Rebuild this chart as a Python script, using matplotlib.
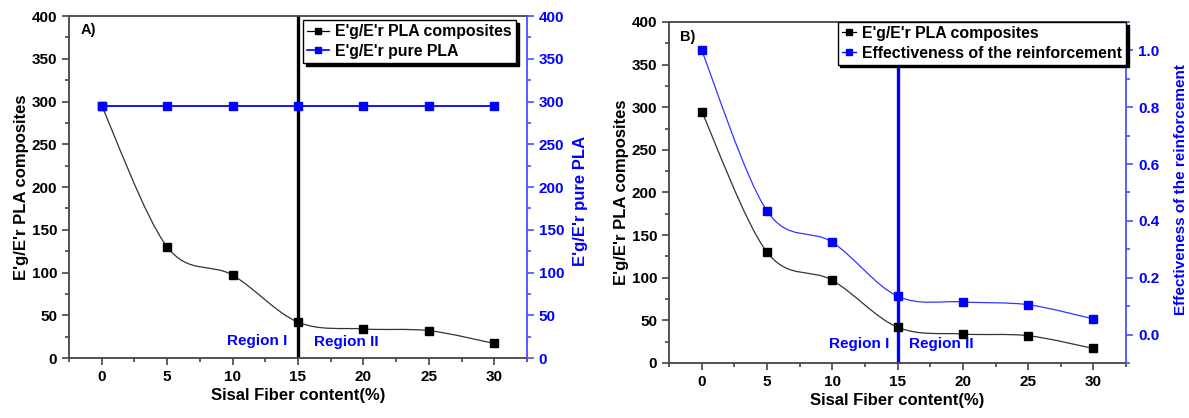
import numpy as np
import matplotlib.pyplot as plt
from matplotlib.path import Path
from matplotlib.patches import PathPatch
from matplotlib.lines import Line2D
from matplotlib.ticker import MultipleLocator

plt.rcParams['font.family'] = ['Liberation Sans', 'DejaVu Sans']
plt.rcParams['font.weight'] = 'bold'
plt.rcParams['axes.labelweight'] = 'bold'

fiber = [0, 5, 10, 15, 20, 25, 30]
ratio_composites = [295, 130, 97, 42, 34, 32, 17]
ratio_pure = [295, 295, 295, 295, 295, 295, 295]
effectiveness = [1.0, 0.435, 0.325, 0.135, 0.115, 0.105, 0.055]

BLUE = '#0000ff'
SPINE = '#444444'


def smooth_path(x, y):
    # catmull-rom curve through the points, drawn as bezier segments
    p = np.column_stack([x, y]).astype(float)
    p = np.vstack([p[0], p, p[-1]])
    verts = [p[1]]
    codes = [Path.MOVETO]
    for i in range(1, len(p) - 2):
        c1 = p[i] + (p[i + 1] - p[i - 1]) / 6
        c2 = p[i + 1] - (p[i + 2] - p[i]) / 6
        verts += [c1, c2, p[i + 1]]
        codes += [Path.CURVE4] * 3
    return Path(verts, codes)


def style_axes(ax, ax2):
    ax.set_xlim(-2.5, 32.5)
    ax.xaxis.set_major_locator(MultipleLocator(5))
    ax.xaxis.set_minor_locator(MultipleLocator(2.5))
    ax.set_ylim(0, 400)
    ax.yaxis.set_major_locator(MultipleLocator(50))
    ax.yaxis.set_minor_locator(MultipleLocator(25))
    for s in ['left', 'bottom', 'top']:
        ax.spines[s].set_color(SPINE)
        ax.spines[s].set_linewidth(1.3)
    ax.spines['right'].set_visible(False)
    ax.tick_params(which='both', direction='out', color=SPINE, width=1.2,
                   labelsize=11, top=False, right=False)
    ax.tick_params(which='major', length=5)
    ax.tick_params(which='minor', length=3)
    for s in ['left', 'bottom', 'top']:
        ax2.spines[s].set_visible(False)
    ax2.spines['right'].set_color('#4d4dff')
    ax2.spines['right'].set_linewidth(1.3)
    ax2.tick_params(which='both', direction='out', color='#4d4dff', width=1.2,
                    labelsize=11, labelcolor=BLUE)
    ax2.tick_params(which='major', length=5)
    ax2.tick_params(which='minor', length=3)
    ax.set_xlabel('Sisal Fiber content(%)', fontsize=12, fontweight='bold', labelpad=3)
    ax.set_ylabel("E'g/E'r PLA composites", fontsize=12, fontweight='bold', labelpad=2)


fig = plt.figure(figsize=(11.89, 4.18), dpi=100)

# ---- panel A
axA = fig.add_axes([0.0580, 0.1435, 0.3852, 0.8182])
axA2 = axA.twinx()
style_axes(axA, axA2)
axA2.set_ylim(0, 400)
axA2.yaxis.set_major_locator(MultipleLocator(50))
axA2.yaxis.set_minor_locator(MultipleLocator(25))
axA2.set_ylabel("E'g/E'r pure PLA", fontsize=12, fontweight='bold', color=BLUE)
axA2.yaxis.set_label_coords(1.10, 0.46)

axA.axvline(15, color='black', lw=2.4, zorder=2)
axA.add_patch(PathPatch(smooth_path(fiber, ratio_composites), fc='none',
                        ec='#333333', lw=0.9, zorder=3))
axA.plot(fiber, ratio_composites, 's', color='black', ms=6, zorder=4)
axA2.plot(fiber, ratio_pure, 's-', color=BLUE, ms=6, lw=1.3, zorder=4)
axA.text(14.2, 20, 'Region I', color=BLUE, fontsize=11, fontweight='bold',
         ha='right', va='center')
axA.text(16.2, 19, 'Region II', color=BLUE, fontsize=11, fontweight='bold',
         ha='left', va='center')
axA.text(0.025, 0.96, 'A)', transform=axA.transAxes, fontsize=10.5,
         fontweight='bold', va='center')

hA = [Line2D([], [], color='black', marker='s', ms=5, lw=0.9),
      Line2D([], [], color=BLUE, marker='s', ms=5, lw=1.2)]
legA = axA2.legend(hA, ["E'g/E'r PLA composites", "E'g/E'r pure PLA"],
                   loc='upper right', bbox_to_anchor=(0.976, 0.988),
                   prop={'size': 11.4, 'weight': 'bold'}, fancybox=False,
                   edgecolor='black', framealpha=1, handlelength=1.4,
                   handletextpad=0.4, borderpad=0.25, labelspacing=0.3,
                   borderaxespad=0, shadow={'color': 'black', 'alpha': 1})
legA.get_frame().set_linewidth(1.0)

# ---- panel B
axB = fig.add_axes([0.5627, 0.1316, 0.3844, 0.8158])
axB2 = axB.twinx()
style_axes(axB, axB2)
axB2.set_ylim(-0.1, 1.1)
axB2.yaxis.set_minor_locator(MultipleLocator(0.1))
axB2.set_yticks([0.0, 0.2, 0.4, 0.6, 0.8, 1.0])
axB2.set_ylabel('Effectiveness of the reinforcement', fontsize=11,
                fontweight='bold', color=BLUE)
axB2.yaxis.set_label_coords(1.105, 0.51)

axB.axvline(15, color=BLUE, lw=2.4, zorder=2)
axB.add_patch(PathPatch(smooth_path(fiber, ratio_composites), fc='none',
                        ec='#333333', lw=0.9, zorder=3))
axB.plot(fiber, ratio_composites, 's', color='black', ms=6, zorder=4)
axB2.add_patch(PathPatch(smooth_path(fiber, effectiveness), fc='none',
                         ec='#3333ff', lw=0.9, zorder=3))
axB2.plot(fiber, effectiveness, 's', color=BLUE, ms=6, zorder=4)
axB.text(14.4, 22, 'Region I', color=BLUE, fontsize=11, fontweight='bold',
         ha='right', va='center')
axB.text(15.9, 22, 'Region II', color=BLUE, fontsize=11, fontweight='bold',
         ha='left', va='center')
axB.text(0.025, 0.955, 'B)', transform=axB.transAxes, fontsize=10.5,
         fontweight='bold', va='center')

hB = [Line2D([], [], color='black', marker='s', ms=5, lw=0.9),
      Line2D([], [], color=BLUE, marker='s', ms=5, lw=0.9)]
legB = axB2.legend(hB, ["E'g/E'r PLA composites", 'Effectiveness of the reinforcement'],
                   loc='upper right', bbox_to_anchor=(1.0, 1.0),
                   prop={'size': 11.4, 'weight': 'bold'}, fancybox=False,
                   edgecolor='black', framealpha=1, handlelength=0.9,
                   handletextpad=0.4, borderpad=0.25, labelspacing=0.3,
                   borderaxespad=0, shadow={'color': 'black', 'alpha': 1})
legB.get_frame().set_linewidth(1.0)
legB.set_zorder(10)

# tick labels bold (set after a first draw so the tick objects exist)
fig.canvas.draw()
for ax in [axA, axA2, axB, axB2]:
    for lab in ax.get_xticklabels() + ax.get_yticklabels():
        lab.set_fontweight('bold')

fig.savefig('out.png', dpi=100)
